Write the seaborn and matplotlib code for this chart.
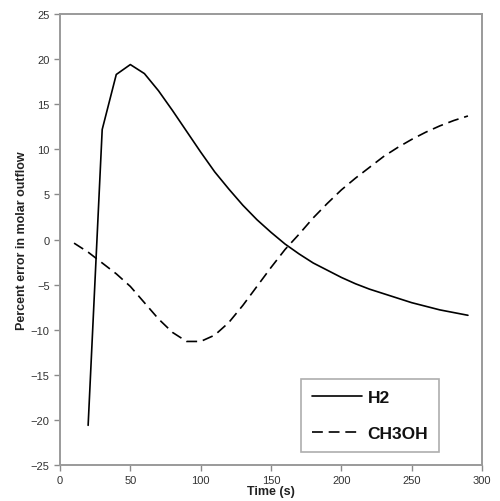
import numpy as np
import pandas as pd
import matplotlib
matplotlib.use("Agg")
import matplotlib.pyplot as plt
import seaborn as sns

h2_time = [20, 30, 40, 50, 60, 70, 80, 90, 100, 110, 120, 130, 140, 150, 160,
           170, 180, 190, 200, 210, 220, 230, 240, 250, 260, 270, 280, 290]
h2_err = [-20.6, 12.2, 18.3, 19.4, 18.4, 16.5, 14.3, 12.0, 9.7, 7.5, 5.6, 3.8,
          2.2, 0.8, -0.5, -1.6, -2.6, -3.4, -4.2, -4.9, -5.5, -6.0, -6.5, -7.0,
          -7.4, -7.8, -8.1, -8.4]

ch3oh_time = [10, 20, 30, 40, 50, 60, 70, 80, 90, 100, 110, 120, 130, 140, 150,
              160, 170, 180, 190, 200, 210, 220, 230, 240, 250, 260, 270, 280, 290]
ch3oh_err = [-0.4, -1.4, -2.6, -3.8, -5.2, -7.0, -8.8, -10.3, -11.3, -11.3,
             -10.6, -9.2, -7.3, -5.2, -3.1, -1.1, 0.6, 2.4, 4.0, 5.5, 6.8, 8.0,
             9.2, 10.2, 11.1, 11.9, 12.6, 13.2, 13.7]

x_ticks = [0, 50, 100, 150, 200, 250, 300]
y_ticks = [-25, -20, -15, -10, -5, 0, 5, 10, 15, 20, 25]

sns.set_theme(style="white")
plt.rcParams['font.family'] = ['Liberation Sans', 'DejaVu Sans']

fig = plt.figure(figsize=(5.0, 5.02), dpi=100)
ax = fig.add_axes([0.12, 0.0717, 0.844, 0.8983])

df_h2 = pd.DataFrame({"t": h2_time, "e": h2_err})
df_ch = pd.DataFrame({"t": ch3oh_time, "e": ch3oh_err})

sns.lineplot(data=df_h2, x="t", y="e", ax=ax, color="black", lw=1.2, label="H2")
sns.lineplot(data=df_ch, x="t", y="e", ax=ax, color="black", lw=1.2,
             label="CH3OH", dashes=False)
ax.lines[1].set_dashes((6.5, 3.5))

ax.set_xlim(0, 300)
ax.set_ylim(-25, 25)
ax.set_xticks(x_ticks)
ax.set_yticks(y_ticks)
ax.tick_params(axis="both", which="both", direction="out", length=4, width=1,
               color="#8a8a8a", labelsize=8, labelcolor="#333333", pad=3.5,
               left=True, bottom=True)

for s in ax.spines.values():
    s.set_color("#9a9a9a")
    s.set_linewidth(1.4)

ax.set_xlabel("Time (s)", fontsize=9, fontweight="bold", color="#222222")
ax.set_ylabel("Percent error in molar outflow", fontsize=9, fontweight="bold",
              color="#222222")
ax.xaxis.set_label_coords(0.5, -0.044)
ax.yaxis.set_label_coords(-0.075, 0.5)

leg = ax.legend(loc="lower right", bbox_to_anchor=(0.898, 0.029),
                borderaxespad=0, fontsize=12.5, frameon=True, fancybox=False,
                handlelength=2.9, handletextpad=0.3, borderpad=0.62,
                labelspacing=1.2, edgecolor="#9a9a9a")
leg.get_frame().set_linewidth(1.2)
for t in leg.get_texts():
    t.set_fontweight("bold")
    t.set_color("#111111")

fig.savefig("out.png", dpi=100, facecolor="white")
